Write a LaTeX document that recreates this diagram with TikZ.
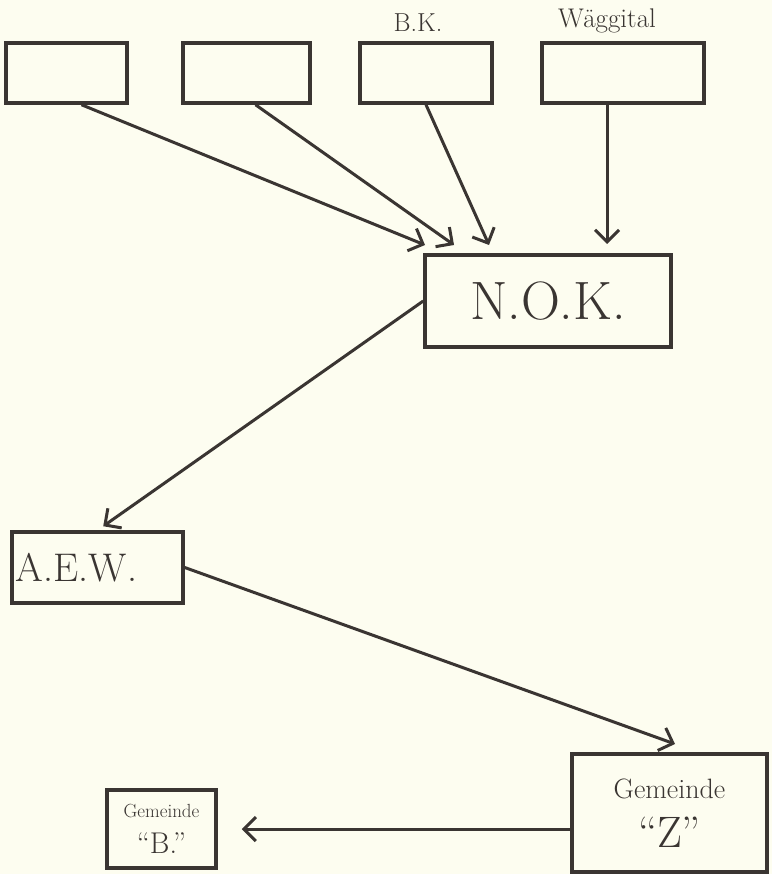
\documentclass[tikz,border=0pt]{standalone}
\usetikzlibrary{arrows.meta,positioning,calc}
\definecolor{paper}{HTML}{FDFDF0}
\definecolor{ink}{HTML}{3A3532}
\newcommand{\fs}[1]{\fontsize{#1}{#1}\selectfont}

\begin{document}
\begin{tikzpicture}[x=1pt, y=-1pt, >={Straight Barb[length=12pt,width=24pt]}, line width=3pt, color=ink]
	\tikzstyle{box}=[draw=ink, line width=3.5pt, inner sep=0pt, text=ink]
	\fill[paper] (0,0) rectangle (772,874);
	\useasboundingbox (0,0) rectangle (772,874);

	% upper row
	\node[box, minimum width=121pt, minimum height=60pt] (s1) at (66.5,73)  {};
	\node[box, minimum width=127pt, minimum height=60pt] (s2) at (246.5,73) {};
	\node[box, minimum width=132pt, minimum height=60pt] (bk) at (426,73)   {};
	\node[box, minimum width=162pt, minimum height=60pt] (wg) at (623,73)   {};
	\node[anchor=base, font=\fs{26}] (bklabel) at (418,32) {B.K.};
	\node[anchor=base, font=\fs{27}] (wglabel) at (607,28) {Wäggital};

	\node[box, minimum width=246pt, minimum height=92pt, font=\fs{54}] (nok) at (548,301) {N.O.K.};
	\node[box, minimum width=171pt, minimum height=71pt, text width=163pt, align=left, font=\fs{40}] (aew) at (97.5,567.5) {A.E.W.};
	\node[box, minimum width=195pt, minimum height=118pt, align=center, font=\fs{28}] (gz) at (669.5,813) {Gemeinde\\[17pt] {\fs{44}``Z''}};
	\node[box, minimum width=109pt, minimum height=78pt, align=center, font=\fs{19}] (gb) at (161.5,829) {Gemeinde\\[14pt] {\fs{30}``B.''}};

	\coordinate (n1) at (425,245);
	\coordinate (n2) at (454,245);
	\coordinate (n3) at (489,245);
	\coordinate (n4) at (607,244);
	\coordinate (zin) at (675,744);

	\path[->] % connectors
	([xshift=15pt]s1.south) edge (n1)
	([xshift=9pt]s2.south)  edge (n2)
	(bk.south)              edge (n3)
	([xshift=-16pt]wg.south) edge (n4)
	(nok.west)              edge[shorten >=7pt] (aew.north)
	(aew.east)              edge (zin)
	(gz.west |- gb.east)    edge[shorten >=24pt] (gb.east);
\end{tikzpicture}
\end{document}
